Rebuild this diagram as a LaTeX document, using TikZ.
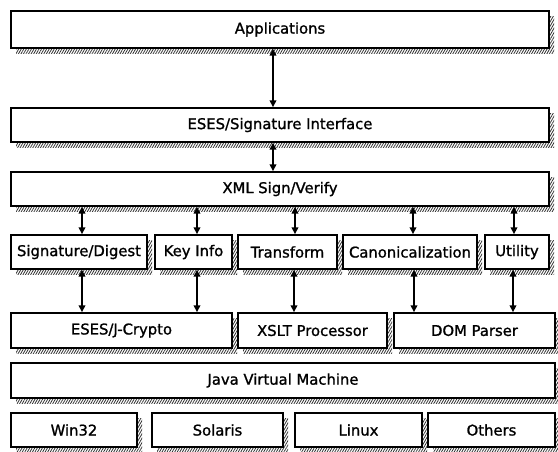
\documentclass[tikz,border=0pt]{standalone}
\usepackage{fontspec}
\setmainfont{DejaVu Sans}
\newfontfamily\boxfont{DejaVu Sans}[FakeBold=1.2]
\usetikzlibrary{arrows.meta,shadows,patterns.meta}
\begin{document}
\begin{tikzpicture}[x=1pt,y=-1pt,
  box/.style={draw, line width=1.4pt, fill=white, inner sep=0pt,
    font=\boxfont\fontsize{14.8}{16}\selectfont,
    general shadow={shadow xshift=5pt, shadow yshift=-5pt,
      pattern={Lines[angle=60,distance=2.2pt,line width=0.8pt]}, pattern color=black!80}},
  arr/.style={line width=1.7pt, {Triangle[length=7pt,width=6.5pt]}-{Triangle[length=7pt,width=6.5pt]}}]
\useasboundingbox (0,0) rectangle (558,451);
% rows
\node[box, minimum width=538pt, minimum height=37pt] (app) at (280,29.5) {Applications};
\node[box, minimum width=538pt, minimum height=34pt] (iface) at (280,125) {ESES/Signature Interface};
\node[box, minimum width=538pt, minimum height=34pt] (xml) at (280,189) {XML Sign/Verify};
\node[box, minimum width=136pt, minimum height=34pt] (sig) at (79,252) {Signature/Digest};
\node[box, minimum width=77pt, minimum height=34pt] (key) at (193.5,252) {Key Info};
\node[box, minimum width=99pt, minimum height=34pt] (trans) at (287.5,252) {Transform};
\node[box, minimum width=134pt, minimum height=34pt] (canon) at (410,252) {Canonicalization};
\node[box, minimum width=64pt, minimum height=34pt] (util) at (517,252) {Utility};
\node[box, minimum width=221pt, minimum height=35pt] (crypto) at (121.5,330.5) {ESES/J-Crypto};
\node[box, minimum width=149pt, minimum height=35pt] (xslt) at (312.5,330.5) {XSLT Processor};
\node[box, minimum width=161pt, minimum height=35pt] (dom) at (474.5,330.5) {DOM Parser};
\node[box, minimum width=544pt, minimum height=35pt] (jvm) at (283,380.5) {Java Virtual Machine};
\node[box, minimum width=126pt, minimum height=34pt] (win) at (74,430) {Win32};
\node[box, minimum width=131pt, minimum height=34pt] (sol) at (217.5,430) {Solaris};
\node[box, minimum width=127pt, minimum height=34pt] (lin) at (358.5,430) {Linux};
\node[box, minimum width=127pt, minimum height=34pt] (oth) at (491.5,430) {Others};
% arrows
\draw[arr] ([xshift=-7pt]app.south) -- ([xshift=-7pt]app.south |- iface.north);
\draw[arr] ([xshift=-7pt]iface.south) -- ([xshift=-7pt]iface.south |- xml.north);
\draw[arr] ([xshift=3pt]sig.north |- xml.south) -- ([xshift=3pt]sig.north);
\draw[arr] ([xshift=3.5pt]key.north |- xml.south) -- ([xshift=3.5pt]key.north);
\draw[arr] ([xshift=7.5pt]trans.north |- xml.south) -- ([xshift=7.5pt]trans.north);
\draw[arr] ([xshift=3pt]canon.north |- xml.south) -- ([xshift=3pt]canon.north);
\draw[arr] ([xshift=-3pt]util.north |- xml.south) -- ([xshift=-3pt]util.north);
\draw[arr] ([xshift=3pt]sig.south) -- ([xshift=3pt]sig.south |- crypto.north);
\draw[arr] ([xshift=3.5pt]key.south) -- ([xshift=3.5pt]key.south |- crypto.north);
\draw[arr] ([xshift=6.5pt]trans.south) -- ([xshift=6.5pt]trans.south |- xslt.north);
\draw[arr] ([xshift=4pt]canon.south) -- ([xshift=4pt]canon.south |- dom.north);
\draw[arr] ([xshift=-4pt]util.south) -- ([xshift=-4pt]util.south |- dom.north);
\end{tikzpicture}
\end{document}
